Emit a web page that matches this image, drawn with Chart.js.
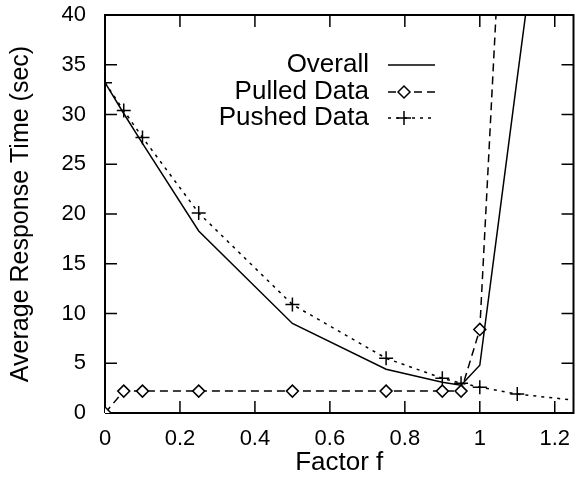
<!DOCTYPE html>
<html>
<head>
<meta charset="utf-8">
<script src="https://cdn.jsdelivr.net/npm/chart.js@4.4.1/dist/chart.umd.min.js"></script>
<style>
  html, body { margin: 0; padding: 0; background: #fff; }
  #wrap { width: 582px; height: 481px; }
</style>
</head>
<body>
<div id="wrap"><canvas id="chart" width="582" height="481"></canvas></div>
<script>
// Series
const overallX = [0, 0.05, 0.1, 0.25, 0.5, 0.75, 0.9, 0.95, 1.0, 1.05, 1.1, 1.15];
const overallY = [33.2, 30.1, 27.1, 18.3, 9.0, 4.4, 3.1, 2.8, 4.8, 19.2, 33.7, 48];

const pulledX = [0, 0.05, 0.1, 0.25, 0.5, 0.75, 0.9, 0.95, 1.0, 1.05];
const pulledY = [0, 2.2, 2.2, 2.2, 2.2, 2.2, 2.2, 2.2, 8.4, 45];

const pushedX = [0, 0.05, 0.1, 0.25, 0.5, 0.75, 0.9, 0.95, 1.0, 1.1, 1.3];
const pushedY = [33.2, 30.4, 27.7, 20.1, 10.9, 5.5, 3.5, 3.0, 2.6, 1.9, 1.1];

const seriesNames = ['Overall', 'Pulled Data', 'Pushed Data'];

// axes
const xMin = 0, xMax = 1.25;
const yMin = 0, yMax = 40;
const xTicks = [0, 0.2, 0.4, 0.6, 0.8, 1.0, 1.2];
const yTicks = [0, 5, 10, 15, 20, 25, 30, 35, 40];

const FONT = "'Liberation Sans', Arial, Helvetica, sans-serif";
// inward tick length in data units (~12px each way)
const TICK_DX = 0.032;
const TICK_DY = 1.2;

function toPoints(xs, ys) {
    return xs.map((x, i) => ({ x: x, y: ys[i] }));
}

// box round the plot, drawn through the scales like any other line
const framePts = [
    { x: xMin, y: yMin }, { x: xMax, y: yMin },
    { x: xMax, y: yMax }, { x: xMin, y: yMax }, { x: xMin, y: yMin }
];

// inward ticks on all four sides, separated by gaps (y: null)
const tickPts = [];
xTicks.forEach(v => {
    tickPts.push({ x: v, y: yMin }, { x: v, y: yMin + TICK_DY }, { x: v, y: null });
    tickPts.push({ x: v, y: yMax }, { x: v, y: yMax - TICK_DY }, { x: v, y: null });
});
yTicks.forEach(v => {
    tickPts.push({ x: xMin, y: v }, { x: xMin + TICK_DX, y: v }, { x: xMin, y: null });
    tickPts.push({ x: xMax, y: v }, { x: xMax - TICK_DX, y: v }, { x: xMax, y: null });
});

// gnuplot style key: label on the left, line sample on the right
const keyBox = {
    id: 'keyBox',
    afterDraw(chart) {
        const ctx = chart.ctx;
        const textRight = 369;
        const x0 = 388, x1 = 435, xm = 404;
        const rows = [65, 92, 118];
        ctx.save();
        ctx.font = '26px ' + FONT;
        ctx.textAlign = 'right';
        ctx.textBaseline = 'middle';
        chart.data.datasets.slice(0, seriesNames.length).forEach((ds, i) => {
            const y = rows[i];
            ctx.fillStyle = '#000';
            ctx.fillText(ds.label, textRight, y);
            ctx.strokeStyle = '#000';
            ctx.lineWidth = ds.borderWidth;
            ctx.setLineDash(ds.borderDash || []);
            ctx.beginPath();
            ctx.moveTo(x0, y);
            ctx.lineTo(x1, y);
            ctx.stroke();
            ctx.setLineDash([]);
            if (ds.pointRadius > 0) {
                ctx.fillStyle = ds.pointBackgroundColor;
                ctx.strokeStyle = ds.pointBorderColor;
                ctx.lineWidth = ds.pointBorderWidth;
                Chart.helpers.drawPoint(ctx, {
                    pointStyle: ds.pointStyle,
                    radius: ds.pointRadius,
                    rotation: 0,
                    borderWidth: ds.pointBorderWidth
                }, xm, y);
            }
        });
        ctx.restore();
    }
};

new Chart(document.getElementById('chart'), {
    type: 'scatter',
    data: {
        datasets: [
            {
                label: seriesNames[0],
                data: toPoints(overallX, overallY),
                showLine: true,
                borderColor: '#000',
                borderWidth: 1.5,
                pointRadius: 0
            },
            {
                label: seriesNames[1],
                data: toPoints(pulledX, pulledY),
                showLine: true,
                borderColor: '#000',
                borderWidth: 1.5,
                borderDash: [8, 5],
                pointStyle: 'rectRot',
                pointRadius: 6,
                pointBackgroundColor: '#fff',
                pointBorderColor: '#000',
                pointBorderWidth: 1.5
            },
            {
                label: seriesNames[2],
                data: toPoints(pushedX, pushedY),
                showLine: true,
                borderColor: '#000',
                borderWidth: 1.5,
                borderDash: [3, 5],
                pointStyle: 'cross',
                pointRadius: 7,
                pointBackgroundColor: '#fff',
                pointBorderColor: '#000',
                pointBorderWidth: 1.5
            },
            {
                label: 'frame',
                data: framePts,
                showLine: true,
                borderColor: '#000',
                borderWidth: 2,
                pointRadius: 0,
                clip: 4
            },
            {
                label: 'ticks',
                data: tickPts,
                showLine: true,
                spanGaps: false,
                borderColor: '#000',
                borderWidth: 1.5,
                pointRadius: 0,
                clip: 4
            }
        ]
    },
    options: {
        responsive: false,
        animation: false,
        devicePixelRatio: 1,
        layout: { padding: { top: 15, right: -8, left: 0, bottom: 0 } },
        scales: {
            x: {
                type: 'linear',
                min: xMin,
                max: xMax,
                afterFit(scale) {
                    scale.height = 68;
                    scale.paddingLeft = 0;
                    scale.paddingRight = 0;
                },
                grid: { display: false, drawTicks: false },
                border: { display: false },
                ticks: {
                    stepSize: 0.2,
                    includeBounds: false,
                    padding: 13,
                    color: '#000',
                    font: { family: FONT, size: 22 },
                    maxRotation: 0,
                    callback: v => Math.round(v * 10) / 10
                },
                title: {
                    display: true,
                    text: 'Factor f',
                    color: '#000',
                    font: { family: FONT, size: 26 },
                    padding: { top: 0, bottom: 3 }
                }
            },
            y: {
                type: 'linear',
                min: yMin,
                max: yMax,
                afterFit(scale) {
                    scale.width = 105;
                    scale.paddingTop = 0;
                    scale.paddingBottom = 0;
                },
                grid: { display: false, drawTicks: false },
                border: { display: false },
                ticks: {
                    stepSize: 5,
                    padding: 19,
                    color: '#000',
                    font: { family: FONT, size: 22 }
                },
                title: {
                    display: true,
                    text: 'Average Response Time (sec)',
                    color: '#000',
                    font: { family: FONT, size: 25 },
                    padding: { top: 6, bottom: 0 }
                }
            }
        },
        plugins: {
            legend: { display: false },
            tooltip: { enabled: false }
        }
    },
    plugins: [keyBox]
});
</script>
</body>
</html>
